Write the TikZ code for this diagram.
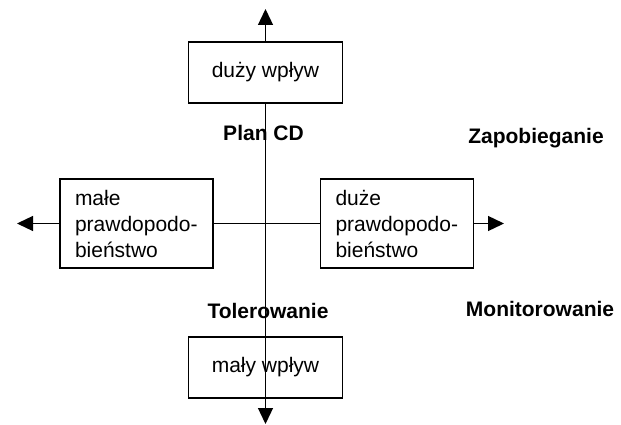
\documentclass[tikz,border=0pt]{standalone}
\usepackage{fontspec}
\setmainfont{Liberation Sans}
\usetikzlibrary{arrows.meta}
\tikzstyle{impact} = [rectangle, minimum width=154pt, minimum height=61pt, text centered, draw=black, line width=1.8pt, fill=white]
\tikzstyle{chance} = [rectangle, minimum width=153pt, minimum height=89pt, inner xsep=15pt, text width=123pt, align=left, draw=black, line width=1.8pt, fill=white]
\tikzstyle{quadrant} = [font=\fontsize{21}{26}\selectfont\bfseries, anchor=base]
\tikzstyle{axis} = [line width=1.3pt,-{Triangle[length=16pt,width=15pt]}]

\begin{document}
\begin{tikzpicture}[x=1pt,y=-1pt,font=\fontsize{21}{26}\selectfont]
	\useasboundingbox (0,0) rectangle (621,425);
	\coordinate (uptip) at (265.5,9);
	\coordinate (downtip) at (265.5,424);
	\coordinate (lefttip) at (17,223.5);
	\coordinate (righttip) at (504,223.5);

	\node (high) [impact] at (265.5,72.5) {duży wpływ};
	\node (low) [impact] at (265.5,367.5) {mały wpływ};
	\node (lowprob) [chance] at (136.5,223.5) {małe\\prawdopodo-\\bieństwo};
	\node (highprob) [chance] at (397,223.5) {duże\\prawdopodo-\\bieństwo};

	\node (plan) [quadrant] at (263.5,141) {Plan CD};
	\node (prevent) [quadrant] at (536,143) {Zapobieganie};
	\node (tolerate) [quadrant] at (268,318) {Tolerowanie};
	\node (monitor) [quadrant] at (540,316) {Monitorowanie};

	\draw [axis] (high) -- (uptip);
	\draw [axis] (high.south) -- (downtip);
	\draw [line width=1.3pt] (lowprob) -- (highprob);
	\draw [axis] (lowprob.west) -- (lefttip);
	\draw [axis] (highprob.east) -- (righttip);
\end{tikzpicture}
\end{document}
